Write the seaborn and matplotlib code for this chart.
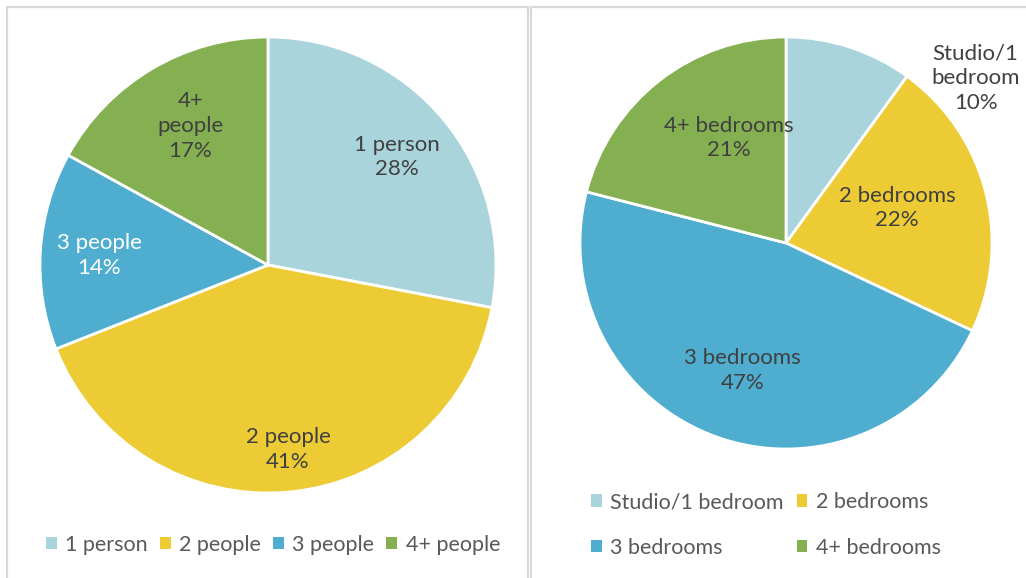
import numpy as np
import matplotlib
matplotlib.use("Agg")
import matplotlib.pyplot as plt
import seaborn as sns
from matplotlib.patches import Rectangle

sns.set_theme(style="white")
plt.rcParams['font.family'] = ['Lato', 'DejaVu Sans']

# Data
hh_labels = ["1 person", "2 people", "3 people", "4+ people"]
hh_values = [28, 41, 14, 17]
hh_text = ["1 person", "2 people", "3 people", "4+\npeople"]
bed_labels = ["Studio/1 bedroom", "2 bedrooms", "3 bedrooms", "4+ bedrooms"]
bed_values = [10, 22, 47, 21]
bed_text = ["Studio/1\nbedroom", "2 bedrooms", "3 bedrooms", "4+ bedrooms"]

colors = ["#A9D4DB", "#EDCB35", "#4FAED0", "#85B052"]
txt_dark = "#404040"

# label placement (radius units of each pie)
hh_label_pos = [(0.566, 0.474), (0.088, -0.81), (-0.74, 0.04), (-0.34, 0.61)]
bed_label_pos = [(0.92, 0.80), (0.54, 0.17), (-0.21, -0.62), (-0.28, 0.51)]

W, H = 1026, 578
fig = plt.figure(figsize=(W / 100, H / 100), dpi=100)
fig.patch.set_facecolor("white")

# Panel borders
border = "#D9D9D9"
fig.add_artist(Rectangle((7 / W, -0.05), (528 - 7) / W, (H - 7) / H + 0.05,
                         transform=fig.transFigure, fill=False, ec=border, lw=1.6))
fig.add_artist(Rectangle((531 / W, -0.05), (W - 531) / W + 0.05, (H - 7) / H + 0.05,
                         transform=fig.transFigure, fill=False, ec=border, lw=1.6))


def draw_pie(rect, values, texts, positions, txtcolors):
    ax = fig.add_axes(rect)
    wedges, _ = ax.pie(values, colors=colors, startangle=90, counterclock=False,
                       wedgeprops=dict(edgecolor="white", linewidth=2))
    ax.set_xlim(-1, 1)
    ax.set_ylim(-1, 1)
    ax.set_aspect("equal")
    ax.axis("off")
    for i, w in enumerate(wedges):
        x, y = positions[i]
        ax.text(x, y, f"{texts[i]}\n{values[i]}%", ha="center", va="center",
                fontsize=16, color=txtcolors[i], linespacing=1.3)
    return ax, wedges


axL, wL = draw_pie([40 / W, 85 / H, 456 / W, 456 / H], hh_values, hh_text,
                   hh_label_pos, [txt_dark, txt_dark, "white", txt_dark])
axR, wR = draw_pie([580 / W, 129 / H, 412 / W, 412 / H], bed_values, bed_text,
                   bed_label_pos, [txt_dark] * 4)

legL = fig.legend(wL, hh_labels, loc="center", bbox_to_anchor=(273 / W, 1 - 545 / H),
                  ncol=4, frameon=False, fontsize=15.5, handlelength=0.5, handleheight=0.5,
                  handletextpad=0.4, columnspacing=0.55, labelcolor="#595959")
order = [0, 2, 1, 3]
legR = fig.legend([wR[i] for i in order], [bed_labels[i] for i in order],
                  loc="center", bbox_to_anchor=(766 / W, 1 - 525 / H),
                  ncol=2, frameon=False, fontsize=15.5, handlelength=0.5, handleheight=0.5,
                  handletextpad=0.4, columnspacing=0.6, labelspacing=1.2,
                  labelcolor="#595959")
for leg in (legL, legR):
    for h in leg.legend_handles:
        h.set_edgecolor("none")

fig.savefig("out.png", dpi=100, facecolor="white")
